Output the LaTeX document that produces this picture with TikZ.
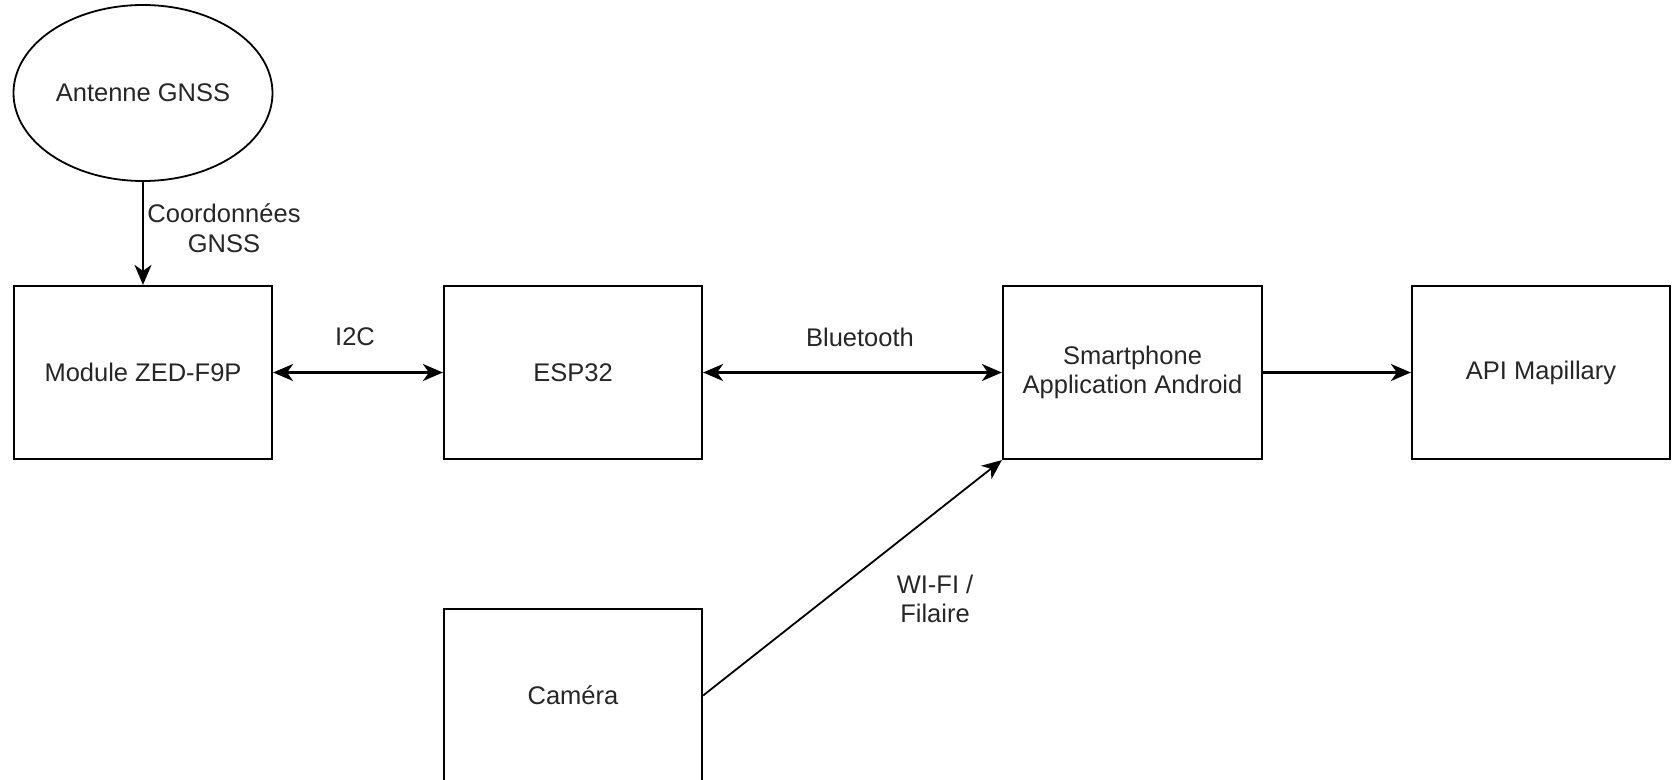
\documentclass[tikz,border=0pt]{standalone}
\usepackage{fontspec}
\setmainfont{Liberation Sans}
\usetikzlibrary{arrows.meta,shapes.geometric}
\begin{document}
\begin{tikzpicture}[x=1pt,y=-1pt,
  arrowtip/.tip={Stealth[length=20pt,width=17pt,inset=6pt]},
  box/.style={draw,line width=2.2pt,rectangle,minimum width=258pt,minimum height=173pt,inner sep=0pt,align=center},
  conn/.style={line width=2.2pt,-arrowtip},
  biconn/.style={line width=2.2pt,arrowtip-arrowtip},
  lbl/.style={align=center,inner sep=0pt},
  every node/.style={font=\fontsize{25.5}{29.5}\selectfont,text=black!85}]
\useasboundingbox (0,0) rectangle (1673,779);
\node[draw,ellipse,line width=1.8pt,minimum width=259pt,minimum height=176pt,inner sep=0pt] (ant) at (143,93) {Antenne GNSS};
\node[box] (mod) at (143,372.5) {Module ZED-F9P};
\node[box] (esp) at (573,372.5) {ESP32};
\node[box,minimum width=259pt] (sp) at (1132.5,372.5) {Smartphone\\Application Android};
\node[box] (api) at (1541,372.5) {API Mapillary};
\node[box] (cam) at (573,695.5) {Caméra};
\draw[conn] (ant) -- (mod);
\draw[biconn] (mod) -- (esp);
\draw[biconn] (esp) -- (sp);
\draw[conn] (sp) -- (api);
\draw[conn,line width=1.8pt] (cam.east) -- (sp.south west);
\node[lbl] (lc) at (224,228) {Coordonnées\\GNSS};
\node[lbl] (li) at (355,337) {I2C};
\node[lbl] (lb) at (860,337) {Bluetooth};
\node[lbl] (lw) at (935,599) {WI-FI /\\Filaire};
\end{tikzpicture}
\end{document}
